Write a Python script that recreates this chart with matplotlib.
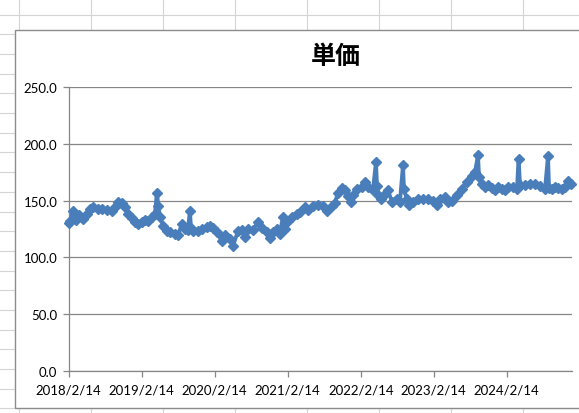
import matplotlib
matplotlib.use("Agg")
import matplotlib.pyplot as plt
import matplotlib.dates as mdates
from matplotlib.patches import Rectangle
from matplotlib.lines import Line2D
import pandas as pd

# ---------------- data ----------------
dates = [
    "2018-02-14", "2018-02-21", "2018-03-08", "2018-03-23", "2018-04-07", "2018-04-27",
    "2018-05-17", "2018-06-01", "2018-06-16", "2018-07-11", "2018-07-31", "2018-08-25",
    "2018-09-19", "2018-10-04", "2018-10-19", "2018-11-08", "2018-11-23", "2018-12-08",
    "2018-12-28", "2019-01-12", "2019-01-27", "2019-02-16", "2019-03-03", "2019-03-18",
    "2019-04-07", "2019-04-22", "2019-05-02", "2019-05-09", "2019-05-17", "2019-06-01",
    "2019-06-21", "2019-07-06", "2019-07-31", "2019-08-15", "2019-09-04", "2019-09-19",
    "2019-10-04", "2019-10-14", "2019-10-19", "2019-10-29", "2019-11-23", "2019-12-13",
    "2020-01-07", "2020-01-22", "2020-02-06", "2020-02-26", "2020-03-22", "2020-04-06",
    "2020-05-01", "2020-05-16", "2020-06-10", "2020-06-30", "2020-07-15", "2020-07-30",
    "2020-08-24", "2020-09-18", "2020-10-08", "2020-11-02", "2020-11-17", "2020-12-02",
    "2020-12-22", "2021-01-06", "2021-01-21", "2021-01-31", "2021-02-15", "2021-03-07",
    "2021-04-01", "2021-04-16", "2021-05-11", "2021-05-26", "2021-06-20", "2021-07-15",
    "2021-08-09", "2021-08-29", "2021-09-23", "2021-10-08", "2021-10-23", "2021-11-12",
    "2021-11-27", "2021-12-12", "2021-12-27", "2022-01-06", "2022-01-26", "2022-02-20",
    "2022-03-07", "2022-03-22", "2022-04-16", "2022-05-01", "2022-05-06", "2022-05-11",
    "2022-05-26", "2022-06-10", "2022-06-30", "2022-07-20", "2022-08-14", "2022-08-29",
    "2022-09-13", "2022-09-18", "2022-10-03", "2022-10-13", "2022-11-02", "2022-11-27",
    "2022-12-22", "2023-01-16", "2023-02-10", "2023-03-02", "2023-03-17", "2023-04-11",
    "2023-04-26", "2023-05-16", "2023-06-10", "2023-07-05", "2023-07-30", "2023-08-24",
    "2023-09-08", "2023-09-23", "2023-09-28", "2023-10-13", "2023-10-28", "2023-11-12",
    "2023-12-02", "2023-12-17", "2024-01-01", "2024-01-21", "2024-02-05", "2024-02-20",
    "2024-03-16", "2024-04-05", "2024-04-13", "2024-04-20", "2024-05-15", "2024-06-09",
    "2024-07-04", "2024-07-29", "2024-08-23", "2024-09-07", "2024-09-12", "2024-09-27",
    "2024-10-12", "2024-10-27", "2024-11-16", "2024-12-01", "2024-12-16", "2024-12-31",
]
unit_price = [
    130, 132, 141, 133, 137, 134,
    138, 143, 144, 143, 143, 142,
    141, 144, 149, 148, 144, 138,
    135, 131, 129, 131, 133, 132,
    136, 138, 157, 145, 136, 128,
    123, 122, 121, 120, 129, 125,
    124, 141, 126, 123, 123, 125,
    127, 128, 126, 122, 114, 120,
    116, 110, 123, 124, 118, 125,
    124, 131, 126, 122, 117, 122,
    125, 121, 136, 125, 132, 136,
    138, 140, 144, 142, 145, 146,
    145, 141, 145, 148, 157, 161,
    159, 154, 149, 155, 160, 162,
    166, 162, 159, 184, 163, 155,
    151, 155, 159, 149, 151, 149,
    181, 160, 151, 146, 149, 151,
    151, 151, 150, 146, 151, 153,
    149, 150, 155, 160, 166, 172,
    175, 190, 171, 165, 162, 164,
    161, 159, 162, 160, 159, 162,
    162, 160, 187, 164, 164, 165,
    165, 163, 160, 189, 161, 160,
    162, 161, 160, 162, 167, 165,
]
x_tick_labels = ["2018/2/14", "2019/2/14", "2020/2/14", "2021/2/14",
                 "2022/2/14", "2023/2/14", "2024/2/14"]
y_ticks = [0, 50, 100, 150, 200, 250]
title = "単価"

# ---------------- figure ----------------
W, H = 579, 414
fig = plt.figure(figsize=(W / 100, H / 100), dpi=100)
fig.patch.set_facecolor("white")

# spreadsheet background
bg = fig.add_axes([0, 0, 1, 1], zorder=0)
bg.set_xlim(0, W)
bg.set_ylim(H, 0)
bg.axis("off")
grid_c = "#d4d4d4"
for gx in [18.5, 90.5, 162.5, 234.5, 306.5, 378.5, 450.5, 522.5]:
    bg.add_line(Line2D([gx, gx], [0, H], color=grid_c, lw=0.8, zorder=1))
for k in range(22):
    gy = 15.5 + 19.7 * k
    bg.add_line(Line2D([0, W], [gy, gy], color=grid_c, lw=0.8, zorder=1))
bg.add_patch(Rectangle((14.5, 31), 600, 378, facecolor="white",
                       edgecolor="#8c8c8c", lw=1.0, zorder=5))

# chart
ax = fig.add_axes([68.5 / W, 1 - 372 / H, (572 - 68.5) / W, (372 - 88) / H], zorder=2)
ax.patch.set_alpha(0)

x = pd.to_datetime(dates)
ax.plot(x, unit_price, color="#4a7ebb", lw=2.8, marker="D", markersize=5.4,
        markeredgecolor="#4a7ebb", markerfacecolor="#4a7ebb", zorder=3,
        clip_on=False)

tick_dates = pd.to_datetime(x_tick_labels, format="%Y/%m/%d")
ax.set_xlim(tick_dates[0], tick_dates[0] + pd.Timedelta(days=2517))
ax.set_xticks(tick_dates)
ax.set_xticklabels(x_tick_labels)
ax.set_ylim(0, 250)
ax.set_yticks(y_ticks)
ax.set_yticklabels([f"{v:.1f}" for v in y_ticks])

ax.grid(axis="y", color="#868686", lw=0.9)
ax.set_axisbelow(True)
for s in ["top", "right"]:
    ax.spines[s].set_visible(False)
for s in ["left", "bottom"]:
    ax.spines[s].set_color("#868686")
    ax.spines[s].set_linewidth(0.9)
ax.tick_params(axis="both", colors="#868686", labelcolor="black",
               length=4, width=0.9, labelsize=9.5, direction="out")
ax.tick_params(axis="x", pad=5)
ax.tick_params(axis="y", pad=4)
for lab in ax.get_xticklabels() + ax.get_yticklabels():
    lab.set_fontfamily(["Lato", "DejaVu Sans"])

fig.text(336 / W, 1 - 57 / H, title, ha="center", va="center",
         fontsize=18, fontweight="bold",
         family=["Noto Sans CJK JP", "DejaVu Sans"])

fig.savefig("out.png", dpi=100)
